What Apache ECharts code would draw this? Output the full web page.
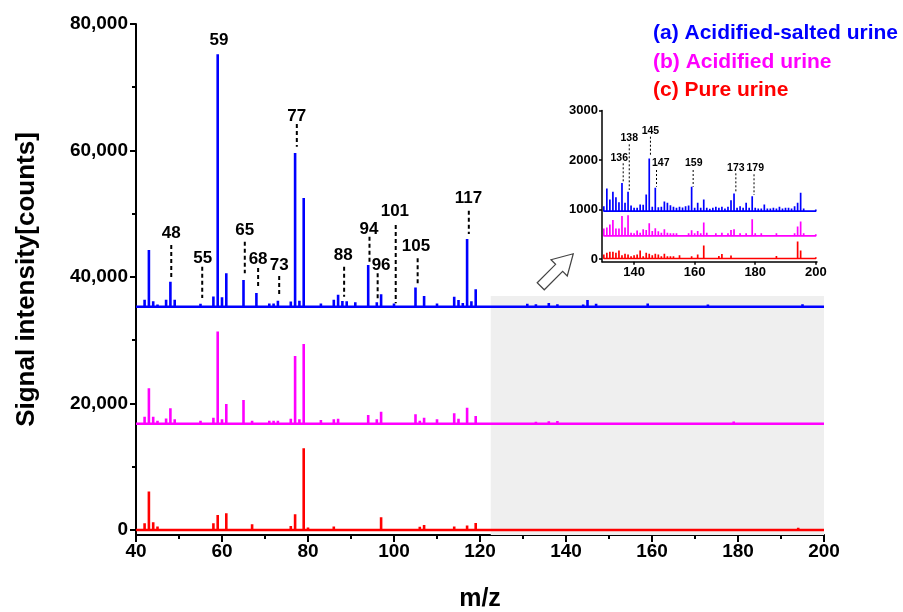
<!DOCTYPE html>
<html><head><meta charset="utf-8">
<script src="https://cdn.jsdelivr.net/npm/echarts@6/dist/echarts.min.js"></script>
<style>html,body{margin:0;padding:0;background:#fff}#c{width:903px;height:612px}</style>
</head><body><div id="c"></div>
<script>
const FONT = '"Liberation Sans", Arial, sans-serif';
const seriesNames = ['(a) Acidified-salted urine', '(b) Acidified urine', '(c) Pure urine'];
const colors = ['#0000ff', '#ff00ff', '#ff0000'];

// m/z values (integer masses)
const mz = [
  41,42,43,44,45,46,47,48,49,50,
  51,52,53,54,55,56,57,58,59,60,
  61,62,63,64,65,66,67,68,69,70,
  71,72,73,74,75,76,77,78,79,80,
  81,82,83,84,85,86,87,88,89,90,
  91,92,93,94,95,96,97,98,99,100,
  101,102,103,104,105,106,107,108,109,110,
  111,112,113,114,115,116,117,118,119,120,
  121,122,123,124,125,126,127,128,129,
  130,131,132,133,134,135,136,137,138,139,
  140,141,142,143,144,145,146,147,148,149,
  150,151,152,153,154,155,156,157,158,159,
  160,161,162,163,164,165,166,167,168,169,
  170,171,172,173,174,175,176,177,178,179,
  180,181,182,183,184,185,186,187,188,189,
  190,191,192,193,194,195,196,197,198,199,200
];
// intensities (counts above each trace's baseline)
const blueA = [
  150,1100,8980,850,350,300,1100,3960,1100,250,
  200,200,100,100,480,150,250,1630,39900,1480,
  5280,300,250,100,4230,250,150,2160,150,100,
  500,500,930,150,200,820,24300,950,17200,260,
  200,300,500,100,150,1100,1900,920,850,300,
  700,200,150,6600,300,700,1970,150,150,520,
  300,150,150,300,3030,300,1710,150,150,500,
  250,100,150,1580,1050,600,10720,850,2750,200,
  200,60,80,50,90,70,110,90,80,
  100,456,235,390,280,180,570,170,390,115,
  70,70,135,130,335,1060,90,470,80,90,
  195,170,120,90,70,90,75,100,115,490,
  70,170,70,235,70,50,70,90,70,90,
  55,90,220,355,70,100,70,170,70,300,
  70,55,55,135,55,55,70,55,90,55,
  70,70,55,100,170,370,55,35,35,35,35
];
const magentaB = [
  100,1110,5590,1110,470,200,840,2430,690,150,
  150,100,100,100,470,100,150,950,14560,690,
  3110,300,150,100,3750,150,470,300,100,100,
  470,470,470,100,150,790,10710,690,12600,300,
  150,150,580,100,100,690,790,250,250,250,
  250,250,200,1370,150,690,1900,150,100,300,
  200,100,100,300,1480,470,950,100,100,690,
  300,100,100,1640,790,300,2530,300,1210,100,
  100,50,60,50,70,60,80,90,100,
  150,170,230,320,150,150,400,170,415,65,
  55,110,65,135,120,255,100,155,95,65,
  135,65,55,55,55,40,40,40,55,115,
  55,100,55,270,65,40,40,55,40,65,
  40,55,120,135,40,55,40,55,40,335,
  55,40,55,40,35,35,40,55,40,35,
  35,40,35,55,190,290,55,35,35,35,35
];
const redC = [
  100,1050,6070,1210,530,200,100,100,50,50,
  50,50,50,50,50,50,100,1050,2370,150,
  2640,300,100,50,300,100,900,100,50,50,
  300,300,100,50,100,630,2480,300,12920,400,
  100,100,100,100,100,530,100,100,100,100,
  100,100,100,100,100,100,2000,100,100,150,
  100,100,100,300,300,500,790,100,100,100,
  100,100,100,530,100,100,690,100,1100,100,
  100,40,50,60,50,40,60,50,70,
  80,115,135,135,115,160,65,95,80,45,
  65,80,160,45,115,95,65,95,80,45,
  95,45,45,45,35,65,35,35,35,45,
  35,80,35,260,35,35,35,35,50,90,
  25,25,60,25,25,25,25,25,25,25,
  25,25,25,25,25,25,25,50,25,25,
  25,25,25,25,340,160,40,25,25,25,25
];
const intensities = [blueA, magentaB, redC];

// vertical offsets of the stacked traces
const mainOffsets = [35300, 16800, 0];
const insetOffsets = [970, 470, 15];

// axis ranges / ticks
const mainX = {min: 40, max: 200};
const mainY = {min: -800, max: 80000};
const mainYTicks = [0, 20000, 40000, 60000, 80000];
const mainYMinor = [10000, 30000, 50000, 70000];
const insetX = {min: 129.4, max: 200.4};
const insetXTicks = [140, 160, 180, 200];
const insetY = {min: -50, max: 3000};
const insetYTicks = [0, 1000, 2000, 3000];
const zoomRegion = {x0: 122.5, x1: 200, y1: 37000};

// annotations: label, textX, textY, dashX, dashTop, dashBottom
const mainLabels = ['48','55','59','65','68','73','77','88','94','96','101','105','117'];
const mainLabelPos = [
  [48.2, 46950, 48.2, 45050, 39990],
  [55.5, 42950, 55.4, 41620, 36670],
  [59.3, 77470, null, null, null],
  [65.3, 47310, 65.3, 45570, 40580],
  [68.4, 42840, 68.4, 41410, 38250],
  [73.3, 41890, 73.3, 40150, 36990],
  [77.4, 65450, 77.4, 64180, 60590],
  [88.2, 43360, 88.4, 41620, 36870],
  [94.2, 47580, 94.3, 46360, 42410],
  [97.0, 41890, 96.2, 40580, 36620],
  [100.2, 50320, 100.4, 48210, 35830],
  [105.1, 44780, 105.5, 42950, 38730],
  [117.3, 52440, 117.4, 50470, 46790]
];
const insetLabels = ['136','138','145','147','159','173','179'];
const insetLabelPos = [
  [135.1, 2048, 136.4, 1935, 1551],
  [138.4, 2439, 138.4, 2318, 1396],
  [145.4, 2586, 145.4, 2471, 2068],
  [148.8, 1935, 147.4, 1800, 1463],
  [159.7, 1947, 159.5, 1800, 1463],
  [173.6, 1846, 173.6, 1733, 1362],
  [180.0, 1834, 179.6, 1713, 1295]
];

function sticks(h, base, x0, x1) {
  const pts = [[x0, base]];
  for (let i = 0; i < mz.length; i++) {
    if (mz[i] < x0 || mz[i] > x1) continue;
    pts.push([mz[i], base], [mz[i], base + h[i]], [mz[i], base]);
  }
  pts.push([x1, base]);
  return pts;
}
const fmt = v => String(v).replace(/\B(?=(\d{3})+(?!\d))/g, ',');

const series = [];
// gray zoom region
series.push({
  type: 'custom', xAxisIndex: 0, yAxisIndex: 0, z: 1, silent: true,
  data: [[zoomRegion.x0, mainY.min, zoomRegion.x1, zoomRegion.y1]],
  renderItem(params, api) {
    const a = api.coord([api.value(0), api.value(3)]);
    const b = api.coord([api.value(2), api.value(1)]);
    return {type: 'rect', shape: {x: a[0], y: a[1], width: b[0] - a[0], height: b[1] - a[1]}, style: {fill: '#efefef'}};
  }
});
for (let s = 0; s < 3; s++) {
  series.push({
    name: seriesNames[s], type: 'line', xAxisIndex: 0, yAxisIndex: 0, z: 3,
    showSymbol: false, symbol: 'none', animation: false, silent: true,
    lineStyle: {color: colors[s], width: 2.6, join: 'bevel'}, itemStyle: {color: colors[s]},
    data: sticks(intensities[s], mainOffsets[s], mainX.min, mainX.max)
  });
}
for (let s = 0; s < 3; s++) {
  series.push({
    name: seriesNames[s], type: 'line', xAxisIndex: 1, yAxisIndex: 2, z: 3,
    showSymbol: false, symbol: 'none', animation: false, silent: true,
    lineStyle: {color: colors[s], width: 1.7, join: 'bevel'}, itemStyle: {color: colors[s]},
    data: sticks(intensities[s], insetOffsets[s], 130, 200)
  });
}
function annotSeries(labels, pos, xi, yi, fs, lw, dash) {
  return {
    type: 'custom', xAxisIndex: xi, yAxisIndex: yi, z: 5, silent: true,
    data: pos.map(p => [p[0], p[1]]),
    renderItem(params, api) {
      const p = pos[params.dataIndex];
      const t = api.coord([p[0], p[1]]);
      const children = [{
        type: 'text', x: t[0], y: t[1],
        style: {text: labels[params.dataIndex], fill: '#000', fontSize: fs, fontWeight: 'bold', fontFamily: FONT, align: 'center', verticalAlign: 'middle'}
      }];
      if (p[2] !== null) {
        const a = api.coord([p[2], p[3]]), b = api.coord([p[2], p[4]]);
        children.push({type: 'line', shape: {x1: a[0], y1: a[1], x2: b[0], y2: b[1]}, style: {stroke: '#000', lineWidth: lw, lineDash: dash}});
      }
      return {type: 'group', children};
    }
  };
}
series.push(annotSeries(mainLabels, mainLabelPos, 0, 0, 17, 2, [4, 3]));
series.push(annotSeries(insetLabels, insetLabelPos, 1, 2, 10.5, 1, [2, 2]));

const axisLineStyle = {color: '#000', width: 2};
const chart = echarts.init(document.getElementById('c'), null, {renderer: 'canvas'});
chart.setOption({
  animation: false,
  backgroundColor: '#fff',
  grid: [
    {left: 136, right: 79, top: 24, bottom: 77, containLabel: false, outerBoundsMode: 'none'},
    {left: 602, right: 86, top: 110.5, bottom: 350.3, containLabel: false, outerBoundsMode: 'none'}
  ],
  legend: {
    orient: 'vertical', left: 643, top: 18, itemWidth: 0, itemHeight: 0, itemGap: 7.5, icon: 'rect',
    selectedMode: false,
    textStyle: {fontSize: 21, fontWeight: 'bold', fontFamily: FONT},
    data: seriesNames.map((n, i) => ({name: n, textStyle: {color: colors[i]}}))
  },
  xAxis: [
    {
      type: 'value', gridIndex: 0, min: mainX.min, max: mainX.max, interval: 20,
      axisLine: {show: true, onZero: false, lineStyle: axisLineStyle},
      axisTick: {show: true, length: 7, lineStyle: axisLineStyle},
      minorTick: {show: true, splitNumber: 2, length: 4, lineStyle: {color: '#000', width: 2}},
      axisLabel: {color: '#000', fontSize: 19, fontWeight: 'bold', fontFamily: FONT, margin: 7},
      splitLine: {show: false}, minorSplitLine: {show: false},
      name: 'm/z', nameLocation: 'middle', nameGap: 52,
      nameTextStyle: {color: '#000', fontSize: 25, fontWeight: 'bold', fontFamily: FONT}
    },
    {
      type: 'value', gridIndex: 1, min: insetX.min, max: insetX.max,
      axisLine: {show: true, onZero: false, lineStyle: {color: '#000', width: 1.5}},
      axisTick: {show: true, length: 3, customValues: insetXTicks, lineStyle: {color: '#000', width: 1.5}},
      axisLabel: {customValues: insetXTicks, formatter: v => String(v), color: '#000', fontSize: 13, fontWeight: 'bold', fontFamily: FONT, margin: 4},
      splitLine: {show: false}
    }
  ],
  yAxis: [
    {
      type: 'value', gridIndex: 0, min: mainY.min, max: mainY.max, position: 'left',
      axisLine: {show: true, onZero: false, lineStyle: axisLineStyle},
      axisTick: {show: true, length: 6, customValues: mainYTicks, lineStyle: axisLineStyle},
      axisLabel: {customValues: mainYTicks, formatter: v => fmt(v), color: '#000', fontSize: 19, fontWeight: 'bold', fontFamily: FONT, margin: 8},
      splitLine: {show: false},
      name: 'Signal intensity[counts]', nameLocation: 'middle', nameGap: 96, nameRotate: 90,
      nameTextStyle: {color: '#000', fontSize: 26, fontWeight: 'bold', fontFamily: FONT}
    },
    {
      type: 'value', gridIndex: 0, min: mainY.min, max: mainY.max, position: 'left', offset: 0,
      axisLine: {show: false},
      axisTick: {show: true, length: 4, customValues: mainYMinor, lineStyle: axisLineStyle},
      axisLabel: {show: false, customValues: mainYMinor},
      splitLine: {show: false}
    },
    {
      type: 'value', gridIndex: 1, min: insetY.min, max: insetY.max,
      axisLine: {show: true, onZero: false, lineStyle: {color: '#000', width: 1.5}},
      axisTick: {show: true, length: 3, customValues: insetYTicks, lineStyle: {color: '#000', width: 1.5}},
      axisLabel: {customValues: insetYTicks, formatter: v => String(v), color: '#000', fontSize: 13, fontWeight: 'bold', fontFamily: FONT, margin: 4},
      splitLine: {show: false}
    }
  ],
  graphic: [{
    type: 'polygon', x: 557, y: 270, rotation: Math.PI / 4, z: 10,
    shape: {points: [[-23, -5], [3, -5], [3, -11.5], [23, 0], [3, 11.5], [3, 5], [-23, 5]]},
    style: {fill: '#fff', stroke: '#444', lineWidth: 1.2}
  }],
  series
});
</script></body></html>
